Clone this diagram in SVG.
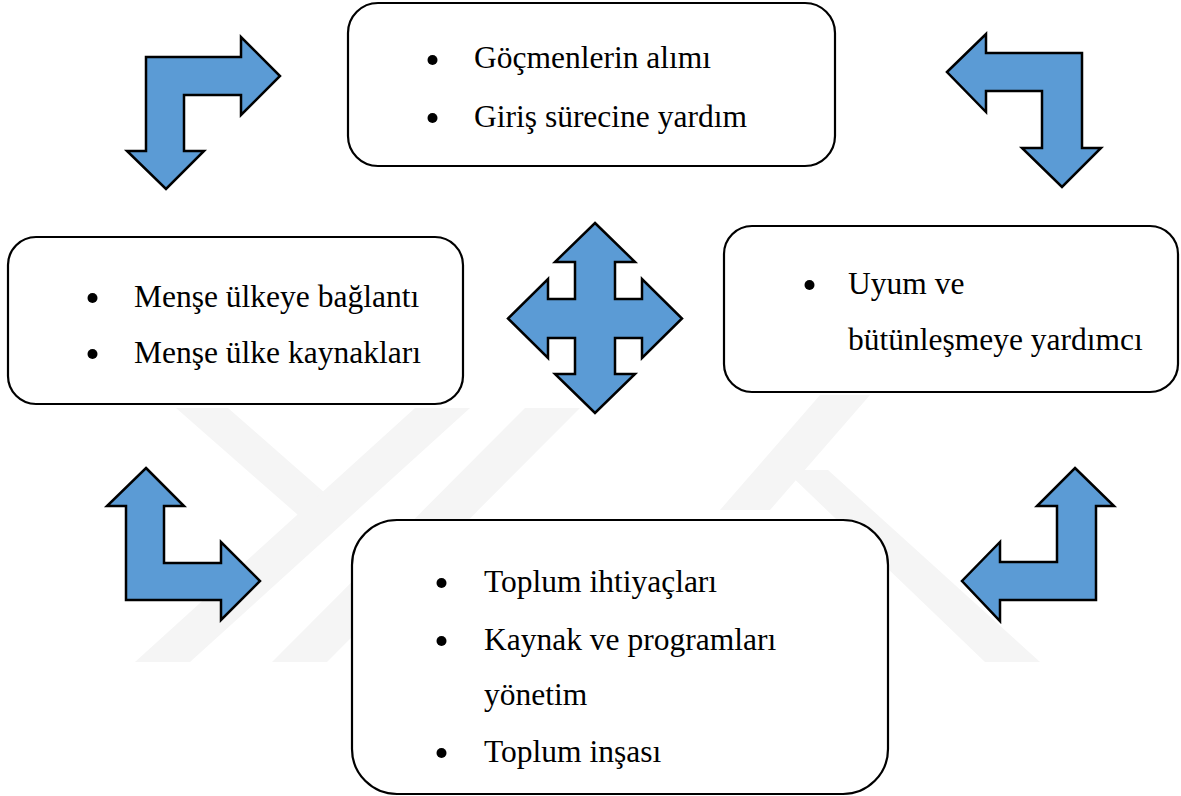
<svg xmlns="http://www.w3.org/2000/svg" width="1181" height="796" viewBox="0 0 1181 796">
<style>
.box{fill:#ffffff;stroke:#000000;stroke-width:2.2}
.arr{fill:#5b9bd5;stroke:#000000;stroke-width:2.5;stroke-linejoin:miter}
.wm{fill:#f5f5f5}
.t{font-family:'Times New Roman','Liberation Serif',serif;font-size:31.5px;fill:#000000}
</style>
<rect x="0" y="0" width="1181" height="796" fill="#ffffff"/>
<g id="watermark">
<polygon class="wm" points="176,408 228,408 350,515 298,515"/>
<polygon class="wm" points="135,662 190,662 470,408 415,408"/>
<polygon class="wm" points="272,662 327,662 580,408 525,408"/>
<polygon class="wm" points="785,470 828,470 1040,662 985,662"/>
<polygon class="wm" points="720,510 770,510 870,395 820,395"/>
</g>
<g id="connectors">
<polygon class="arr" points="146,57 241,57 241,37 280,76 241,115 241,95 184,95 184,151 204,151 166,189 127,151 146,151"/>
<polygon class="arr" points="947,72 986,34 986,53 1082,53 1082,148 1101,148 1062,187 1022,148 1042,148 1042,91 986,91 986,112"/>
<polygon class="arr" points="595,223 635,262 615,262 615,299 642,299 642,279 682,318.5 642,358 642,338 615,338 615,374 635,374 595,413 555,374 575,374 575,338 548,338 548,358 508,318.5 548,279 548,299 575,299 575,262 555,262"/>
<polygon class="arr" points="146,468 184,506 164,506 164,563 221,563 221,542 260,581 221,620 221,600 126,600 126,506 107,506"/>
<polygon class="arr" points="1075,468 1114,506 1096,506 1096,600 1000,600 1000,621 962,581 1000,542 1000,562 1057,562 1057,506 1037,506"/>
</g>
<g id="node-top">
<rect class="box" x="348" y="3" width="487" height="163" rx="30" ry="30"/>
<circle cx="432.5" cy="60" r="5"/>
<text class="t" x="474" y="68">Göçmenlerin alımı</text>
<circle cx="432.5" cy="118" r="5"/>
<text class="t" x="474" y="127">Giriş sürecine yardım</text>
</g>
<g id="node-left">
<rect class="box" x="8" y="237" width="455" height="167" rx="28" ry="28"/>
<circle cx="92.5" cy="298" r="5"/>
<text class="t" x="134" y="307">Menşe ülkeye bağlantı</text>
<circle cx="92.5" cy="354" r="5"/>
<text class="t" x="134" y="363">Menşe ülke kaynakları</text>
</g>
<g id="node-right">
<rect class="box" x="724" y="226" width="454" height="166" rx="28" ry="28"/>
<circle cx="809.5" cy="285" r="5"/>
<text class="t" x="848" y="294">Uyum ve</text>
<text class="t" x="848" y="350">bütünleşmeye yardımcı</text>
</g>
<g id="node-bottom">
<rect class="box" x="352" y="520" width="536" height="274" rx="45" ry="45"/>
<circle cx="441.5" cy="583" r="5"/>
<text class="t" x="484" y="592">Toplum ihtiyaçları</text>
<circle cx="441.5" cy="641" r="5"/>
<text class="t" x="484" y="650">Kaynak ve programları</text>
<text class="t" x="484" y="705">yönetim</text>
<circle cx="441.5" cy="753" r="5"/>
<text class="t" x="484" y="762">Toplum inşası</text>
</g>
</svg>
